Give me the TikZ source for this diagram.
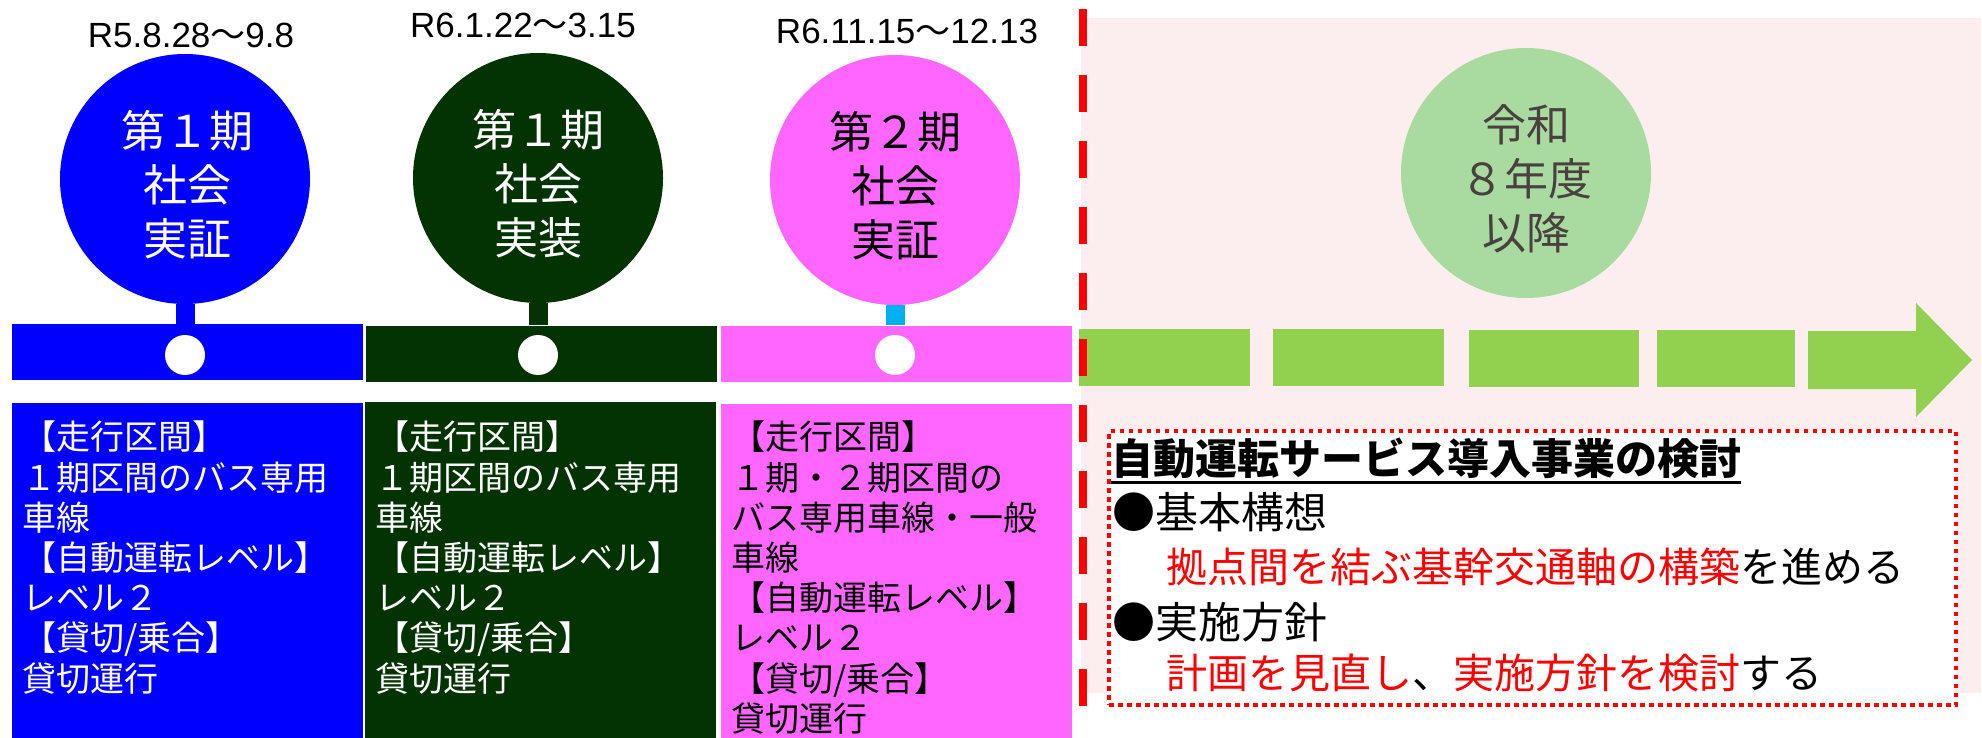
\documentclass[tikz,border=0pt]{standalone}
\usepackage{fontspec}
\setmainfont{Liberation Sans}
\newfontfamily\jp{Noto Sans CJK JP}
\definecolor{pblue}{HTML}{0000FF}
\definecolor{pdg}{HTML}{033303}
\definecolor{ppink}{HTML}{FF66FF}
\definecolor{pcyan}{HTML}{00B0F0}
\definecolor{pgreen}{HTML}{92D050}
\definecolor{plgreen}{HTML}{A9DBA0}
\definecolor{pbg}{HTML}{FCEEEE}
\definecolor{pgray}{HTML}{4A4040}
\definecolor{pred}{HTML}{FF0000}
\begin{document}
\begin{tikzpicture}[x=1pt,y=-1pt,
  phase/.style={circle, minimum size=250pt, inner sep=0pt},
  phasetext/.style={inner sep=0pt, align=center,
    font=\jp\fontsize{44}{54}\selectfont},
  datelbl/.style={inner sep=0pt, font=\fontsize{35}{40}\selectfont},
  bar/.style={rectangle, inner sep=0pt, minimum height=56pt, minimum width=351pt},
  pin/.style={circle, fill=white, minimum size=40pt, inner sep=0pt},
  stem/.style={line width=19pt},
  infobox/.style={rectangle, anchor=north west, inner sep=0pt, minimum width=351pt, minimum height=336pt},
  boxtext/.style={anchor=north west, inner sep=0pt, align=left,
    font=\jp\fontsize{34}{40.2}\selectfont},
  seg/.style={fill=pgreen},
  rline/.style={anchor=west, inner sep=0pt, font=\jp\fontsize{41}{48}\selectfont}
]
\useasboundingbox (0,0) rectangle (1982,738);

% right background
\fill[pbg] (1081,18) rectangle (1981,693);

% dates
\node[datelbl] (d1) at (191,35) {R5.8.28{\jp 〜}9.8};
\node[datelbl] (d2) at (523,25) {R6.1.22{\jp 〜}3.15};
\node[datelbl] (d3) at (907,31) {R6.11.15{\jp 〜}12.13};

% phase circles
\node[phase, fill=pblue] (c1) at (185,179) {};
\node[phase, fill=pdg] (c2) at (538,178) {};
\node[phase, fill=ppink] (c3) at (895,180) {};
\node[phase, fill=plgreen] (c4) at (1526,173) {};
\node[phasetext, text=white] (c1t) at (187,185) {第１期\\社会\\実証};
\node[phasetext, text=white] (c2t) at (538,184) {第１期\\社会\\実装};
\node[phasetext, text=black] (c3t) at (895,186) {第２期\\社会\\実証};
\node[phasetext, text=pgray] (c4t) at (1526,179) {令和\\８年度\\以降};

% timeline bars
\node[bar, fill=pblue] (bar1) at (187.5,352) {};
\node[bar, fill=pdg] (bar2) at (541.5,353.5) {};
\node[bar, fill=ppink] (bar3) at (896.5,353.5) {};

% stems
\draw[stem, pblue] (c1.south) -- (c1.south |- bar1.north);
\draw[stem, pdg] (c2.south) -- (c2.south |- bar2.north);
\draw[stem, pcyan] (c3.south) -- (c3.south |- bar3.north);

% pins
\node[pin] (p1) at (c1.south |- 0,355) {};
\node[pin] (p2) at (c2.south |- 0,355) {};
\node[pin] (p3) at (c3.south |- 0,355) {};

% info boxes
\node[infobox, fill=pblue] (b1) at (12,403) {};
\node[infobox, fill=pdg] (b2) at (365,402) {};
\node[infobox, fill=ppink] (b3) at (721,404) {};

\node[boxtext, text=white] (t1) at (22,421) {【走行区間】\\１期区間のバス専用\\車線\\【自動運転レベル】\\レベル２\\【貸切/乗合】\\貸切運行};
\node[boxtext, text=white] (t2) at (375,421) {【走行区間】\\１期区間のバス専用\\車線\\【自動運転レベル】\\レベル２\\【貸切/乗合】\\貸切運行};
\node[boxtext, text=black] (t3) at (731,421) {【走行区間】\\１期・２期区間の\\バス専用車線・一般\\車線\\【自動運転レベル】\\レベル２\\【貸切/乗合】\\貸切運行};

% green dashed arrow
\fill[seg] (1079,329) rectangle (1250,386);
\fill[seg] (1273,329) rectangle (1444,386);
\fill[seg] (1469,330) rectangle (1639,387);
\fill[seg] (1657,330) rectangle (1795,387);
\fill[seg] (1808,331) -- (1916,331) -- (1916,303) -- (1972,360) -- (1916,417) -- (1916,389) -- (1808,389) -- cycle;

% red dashed divider
\coordinate (rtop) at (1083,9);
\coordinate (rbot) at (1083,708);
\draw[pred, line width=8pt, dash pattern=on 37pt off 29pt] (rtop) -- (rbot);

% study box
\node[rectangle, draw=pred, fill=white, line width=4pt, dash pattern=on 4.5pt off 4.5pt,
  anchor=north west, minimum width=847pt, minimum height=274pt, inner sep=0pt] (sb) at (1107,429) {};
\node[anchor=west, inner sep=0pt, font=\jp\bfseries\fontsize{42}{50}\selectfont] (title) at (1111,458) {自動運転サービス導入事業の検討};
\draw[line width=3pt] ([yshift=-4pt]title.south west) -- ([yshift=-4pt]title.south east);
\node[rline, font=\jp\fontsize{43}{50}\selectfont] (l1) at (1112,512) {●基本構想};
\node[rline] (l2) at (1166,567) {\textcolor{pred}{拠点間を結ぶ基幹交通軸の構築}を進める};
\node[rline, font=\jp\fontsize{43}{50}\selectfont] (l3) at (1112,622) {●実施方針};
\node[rline] (l4) at (1166,673) {\textcolor{pred}{計画を見直し}、\textcolor{pred}{実施方針を検討}する};
\end{tikzpicture}
\end{document}
